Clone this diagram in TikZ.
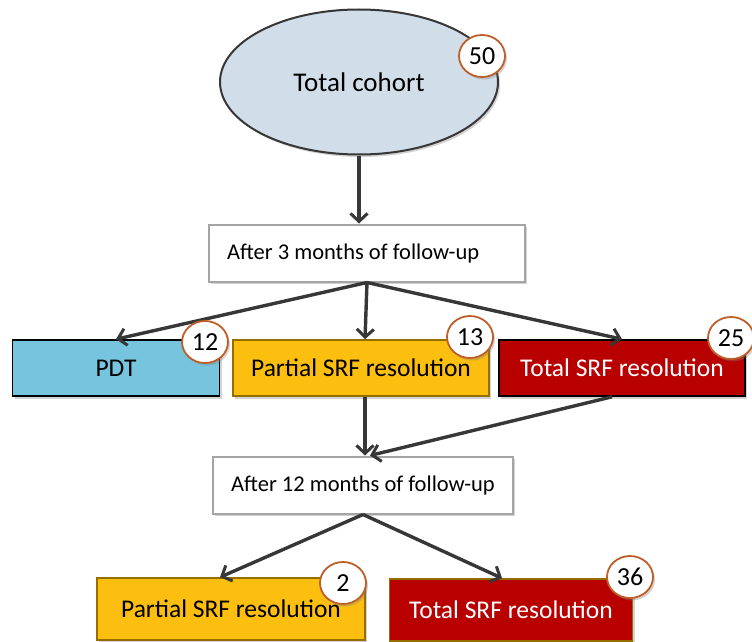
\documentclass[tikz,border=0pt]{standalone}
\usepackage{fontspec}
\setmainfont{Carlito}
\usetikzlibrary{arrows.meta,shapes.geometric,shadows}
\definecolor{ellfill}{RGB}{209,221,232}
\definecolor{pdtblue}{RGB}{118,196,222}
\definecolor{goldfill}{RGB}{252,190,15}
\definecolor{goldline}{RGB}{150,110,0}
\definecolor{srfred}{RGB}{185,0,0}
\definecolor{badgeline}{RGB}{190,95,40}
\definecolor{arrowgray}{RGB}{55,55,55}
\definecolor{boxgray}{RGB}{165,165,165}
\tikzset{
  shade/.style={drop shadow={opacity=0.35,shadow xshift=2pt,shadow yshift=-2.5pt}},
  conn/.style={draw=arrowgray,line width=3.4pt,-{Straight Barb[length=8pt,width=17pt,line width=3pt]}},
  stagebox/.style={draw=boxgray,line width=2pt,fill=white,minimum height=57pt,shade,
    font=\fontsize{22.5}{27}\selectfont},
  resbox/.style={line width=1.6pt,minimum height=56pt,shade,font=\fontsize{25.5}{30}\selectfont},
  badge/.style={ellipse,draw=badgeline,line width=1.8pt,fill=white,minimum width=46pt,minimum height=42pt,
    inner sep=0pt,shade,font=\fontsize{26}{30}\selectfont}
}
\begin{document}
\begin{tikzpicture}[x=1pt,y=-1pt]
\useasboundingbox (0,0) rectangle (752,642);
% top ellipse
\node[ellipse,draw=arrowgray,line width=2pt,fill=ellfill,minimum width=278pt,minimum height=145pt,shade,
  font=\fontsize{27}{32}\selectfont] (cohort) at (359,82) {Total cohort};
% stage boxes
\node[stagebox,minimum width=316pt] (a3) at (367,253) {\makebox[280pt][l]{After 3 months of follow-up}};
\node[stagebox,minimum width=300pt] (a12) at (363,485) {After 12 months of follow-up};
% second row
\node[resbox,draw=black,fill=pdtblue,minimum width=207pt] (pdt) at (116,368) {PDT};
\node[resbox,draw=goldline,fill=goldfill,minimum width=256pt] (p1) at (361,368) {Partial SRF resolution};
\node[resbox,draw=black,fill=srfred,text=white,minimum width=246pt] (t1) at (622,368) {Total SRF resolution};
% third row
\node[resbox,draw=goldline,fill=goldfill,minimum width=268pt,minimum height=62pt] (p2) at (231,609) {Partial SRF resolution};
\node[resbox,draw=goldline,fill=srfred,text=white,minimum width=243pt,minimum height=62pt] (t2) at (511,610) {Total SRF resolution};
% connectors
\draw[conn] (cohort.south) -- (cohort.south |- a3.north);
\draw[conn] (a3.south) -- (pdt.north);
\draw[conn] (a3.south) -- ([xshift=-2pt]a3.south |- p1.north);
\draw[conn] (a3.south) -- (t1.north);
\draw[conn] ([xshift=2pt]a12.north |- p1.south) -- ([xshift=2pt]a12.north);
\draw[conn] ([xshift=-10pt]t1.south) -- ([xshift=7pt]a12.north);
\draw[conn] (a12.south) -- ([xshift=-11pt]p2.north);
\draw[conn] (a12.south) -- ([xshift=-9pt]t2.north);
% badges
\node[badge] (b50) at (482,56) {50};
\node[badge] (b12) at (205,342) {12};
\node[badge] (b13) at (470,337) {13};
\node[badge] (b25) at (731,338) {25};
\node[badge] (b2) at (343,583) {2};
\node[badge] (b36) at (630,577) {36};
\end{tikzpicture}
\end{document}
